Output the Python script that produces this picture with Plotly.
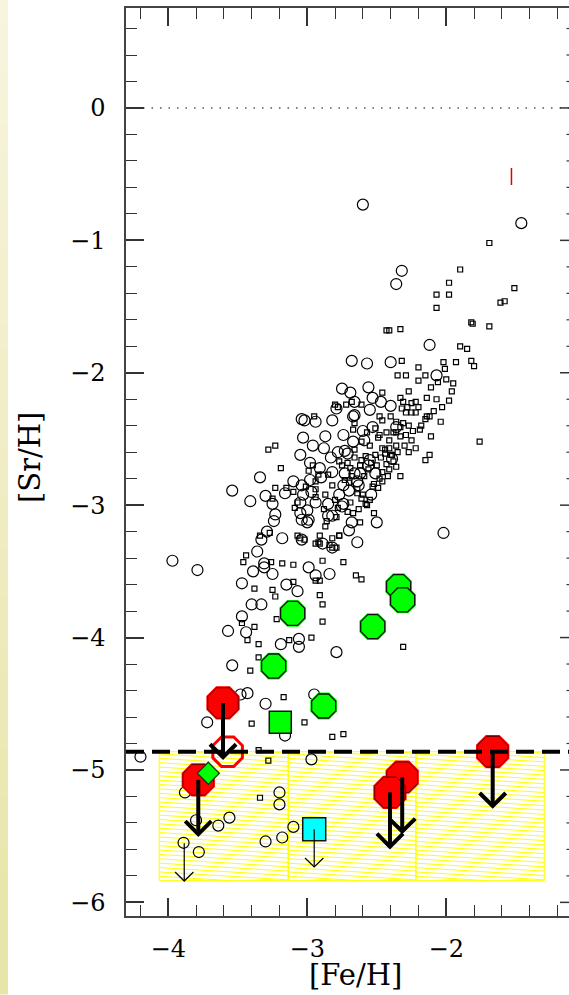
import numpy as np
import plotly.graph_objects as go

# ---------------- data ----------------
# small open circles (comparison sample 1)
circ_x = [-2.60, -1.46, -2.32, -2.36, -2.12, -2.40, -2.57, -2.68, -2.07, -2.56, -2.75, -2.69, -2.53, -2.47,
          -2.40, -2.66, -2.79, -2.55, -2.66, -3.04, -3.02, -2.94, -2.82, -2.67, -2.53, -2.36, -3.03, -2.87,
          -2.74, -2.59, -2.67, -2.88, -2.71, -3.05, -2.83, -2.55, -2.39, -2.56, -2.98, -2.91, -2.82, -2.73,
          -2.66, -2.51, -2.64, -2.74, -2.63, -3.34, -3.10, -3.04, -2.98, -3.54, -3.41, -3.30, -3.16, -3.03,
          -2.97, -3.25, -3.05, -2.94, -2.85, -2.74, -2.54, -3.23, -3.05, -3.00, -2.82, -2.68, -2.50, -3.24,
          -2.99, -3.00, -3.29, -3.18, -3.04, -2.89, -2.64, -2.02, -2.70, -3.33, -3.36, -2.82, -3.97, -3.79,
          -3.31, -3.31, -3.39, -3.25, -2.99, -2.94, -2.84, -3.47, -3.15, -3.07, -3.40, -3.33, -3.47, -3.44,
          -3.57, -3.19, -3.06, -3.06, -2.79, -3.54, -3.43, -3.48, -3.30, -2.95, -3.72, -3.16, -4.20, -2.97,
          -3.88, -3.20, -3.20, -3.80, -3.64, -3.56, -3.10, -3.18, -3.30, -3.78, -3.89,
          -3.04, -2.73, -2.62, -2.70, -2.77, -2.75, -2.85, -2.60, -2.78, -2.90, -2.96]
circ_y = [-0.73, -0.87, -1.23, -1.33, -1.79, -1.92, -1.93, -1.91, -2.02, -2.11, -2.12, -2.15, -2.19, -2.22,
          -2.25, -2.22, -2.27, -2.28, -2.32, -2.35, -2.36, -2.37, -2.36, -2.33, -2.41, -2.41, -2.49, -2.48,
          -2.47, -2.51, -2.52, -2.57, -2.61, -2.62, -2.64, -2.66, -2.65, -2.70, -2.68, -2.72, -2.75, -2.76,
          -2.76, -2.76, -2.82, -2.85, -2.85, -2.79, -2.82, -2.85, -2.81, -2.89, -2.97, -2.93, -2.91, -2.92,
          -2.90, -2.99, -2.98, -2.98, -2.99, -2.99, -2.92, -3.07, -3.06, -3.04, -3.08, -3.13, -3.13, -3.12,
          -3.11, -3.13, -3.20, -3.25, -3.26, -3.29, -3.28, -3.21, -3.19, -3.26, -3.35, -3.32, -3.42, -3.49,
          -3.44, -3.47, -3.50, -3.52, -3.47, -3.53, -3.52, -3.59, -3.60, -3.65, -3.75, -3.75, -3.84, -3.96,
          -3.95, -4.05, -4.01, -4.07, -4.11, -4.21, -4.42, -4.43, -4.50, -4.43, -4.64, -4.74, -4.90, -4.92,
          -5.17, -5.17, -5.26, -5.38, -5.42, -5.36, -5.43, -5.51, -5.54, -5.62, -5.55,
          -3.11, -2.59, -2.76, -2.89, -2.92, -3.01, -3.08, -2.44, -2.60, -2.79, -2.55]

# small open squares (comparison sample 2)
sq_x = [-1.69, -1.90, -1.98, -2.07, -1.98, -2.07, -1.51, -1.58, -1.61, -1.82, -1.81, -1.69, -2.41, -2.43,
        -2.33, -1.90, -1.85, -2.32, -2.02, -1.93, -1.82, -1.80, -2.35, -2.29, -2.20, -2.15, -2.01, -2.20,
        -2.11, -2.06, -2.00, -1.95, -1.96, -2.27, -2.14, -2.07, -2.33, -2.22, -2.20, -2.28, -2.25, -2.14,
        -2.04, -2.15, -2.40, -2.48, -2.36, -2.29, -2.43, -1.76, -2.46, -2.31, -2.25, -2.32, -2.29, -2.22,
        -2.12, -2.46, -2.36, -2.33, -2.31, -2.38, -2.48, -2.49, -2.33, -2.41, -2.46, -2.41, -2.27, -2.12,
        -2.80, -2.78, -2.72, -2.68, -2.61, -2.95, -2.66, -2.67, -3.28, -3.23, -3.19, -3.23, -3.15, -3.10,
        -3.25, -3.09, -3.07, -2.96, -2.94, -2.87, -2.94, -2.94, -2.33, -2.46, -2.49, -2.64, -2.67, -2.52,
        -2.62, -2.82, -2.77, -2.84, -2.82, -2.79, -2.89, -2.74, -2.41, -2.36, -2.38, -2.46, -2.44, -2.87,
        -2.77, -2.91, -3.07, -3.05, -3.34, -3.27, -2.94, -3.44, -3.46, -3.26, -3.18, -3.10, -3.02, -2.92,
        -2.91, -2.65, -2.61, -3.38, -3.25, -3.23, -3.10, -2.94, -2.91, -2.91, -2.89, -3.47, -3.38, -3.22,
        -2.89, -2.31, -3.43, -3.35, -3.13, -2.97, -3.35, -3.41, -3.17, -3.40, -3.02, -2.82, -2.74, -3.35,
        -3.28, -3.34,
        -2.30, -2.25, -2.55, -2.51, -2.61, -2.56, -2.69, -2.77, -2.73, -2.82, -2.61, -2.57, -2.78, -2.71,
        -2.66, -2.61, -2.51, -2.57, -2.19, -2.11, -2.22, -2.35, -2.15,
        -2.58, -2.54, -2.50, -2.47, -2.44, -2.62, -2.59, -2.52, -2.68, -2.64, -2.71, -2.60, -2.55, -2.48,
        -2.43, -2.39, -2.36, -2.42, -2.53, -2.66, -2.70, -2.75, -2.58, -2.63, -2.85, -2.80, -2.88, -2.92,
        -2.99, -3.01, -2.86, -2.79, -2.69, -2.24, -2.18, -2.09, -2.03, -1.98, -2.27, -2.40]
sq_y = [-1.02, -1.22, -1.32, -1.41, -1.41, -1.51, -1.36, -1.46, -1.47, -1.62, -1.63, -1.65, -1.68, -1.68,
        -1.67, -1.80, -1.82, -1.91, -1.92, -1.92, -1.91, -1.95, -2.02, -2.02, -1.96, -2.02, -1.97, -2.06,
        -2.11, -2.07, -2.05, -2.08, -2.14, -2.14, -2.19, -2.20, -2.19, -2.22, -2.26, -2.26, -2.30, -2.33,
        -2.37, -2.35, -2.33, -2.33, -2.45, -2.47, -2.45, -2.52, -2.15, -2.22, -2.23, -2.27, -2.30, -2.30,
        -2.33, -2.36, -2.37, -2.41, -2.38, -2.45, -2.47, -2.49, -2.48, -2.51, -2.57, -2.57, -2.60, -2.62,
        -2.24, -2.26, -2.24, -2.22, -2.24, -2.33, -2.38, -2.43, -2.58, -2.55, -2.72, -2.87, -2.87, -2.90,
        -2.95, -3.02, -2.98, -2.70, -2.82, -2.92, -2.88, -2.94, -2.78, -2.82, -2.87, -2.91, -3.06, -3.06,
        -3.13, -3.25, -3.23, -3.30, -3.32, -3.32, -3.42, -3.43, -2.73, -2.71, -2.67, -2.75, -2.58, -3.16,
        -3.23, -3.29, -3.23, -3.25, -3.23, -3.21, -3.29, -3.38, -3.43, -3.43, -3.44, -3.45, -3.26, -3.28,
        -3.23, -3.53, -3.56, -3.63, -3.64, -3.69, -3.58, -3.57, -3.57, -3.68, -3.75, -3.89, -3.92, -3.86,
        -3.88, -4.07, -4.02, -4.05, -4.02, -4.00, -4.15, -4.25, -4.45, -4.65, -4.64, -4.75, -4.73, -4.85,
        -4.93, -5.21,
        -2.55, -2.51, -2.55, -2.62, -2.66, -2.73, -2.72, -2.67, -2.81, -2.85, -2.95, -3.00, -3.02, -3.05,
        -2.58, -2.52, -2.42, -2.45, -2.43, -2.48, -2.57, -2.60, -2.66,
        -2.63, -2.68, -2.70, -2.64, -2.61, -2.70, -2.78, -2.84, -2.78, -2.88, -2.68, -2.92, -2.96, -2.80,
        -2.69, -2.62, -2.55, -2.78, -2.86, -2.64, -2.83, -2.70, -2.99, -3.03, -2.77, -2.96, -3.03, -2.77,
        -2.74, -2.86, -3.12, -3.09, -2.98, -2.44, -2.40, -2.29, -2.26, -2.21, -2.40, -2.62]

# red filled octagons (upper limits, thick arrows)
red_x = [-3.606, -3.784, -2.317, -2.405, -1.666]
red_y = [-4.494, -5.075, -5.055, -5.169, -4.862]
# red open octagon
redopen_x = [-3.573]
redopen_y = [-4.862]
# green octagons
grn_x = [-3.105, -3.242, -2.882, -2.529, -2.343, -2.314]
grn_y = [-3.817, -4.215, -4.517, -3.917, -3.615, -3.716]
# green square, green diamond, cyan square (upper limit)
gsq_x, gsq_y = [-3.194], [-4.640]
gdia_x, gdia_y = [-3.712], [-5.025]
cyan_x, cyan_y = [-2.950], [-5.448]
# small circle with thin upper-limit arrow
thin_lim_x, thin_lim_y = [-3.885], [-5.554]

# reference lines
solar_level = 0.0
limit_level = -4.862
# hatched (yellow) region: panel edges in [Fe/H], bottom in [Sr/H]
hatch_edges = [-4.065, -3.137, -2.218, -1.295]
hatch_bottom = -5.836
# small red tick mark
red_tick_x = [-1.531, -1.531]
red_tick_y = [-0.453, -0.582]

# right-hand frame tick positions
right_major = [-6, -5, -4, -3, -2, -1, 0]
right_minor = [round(-6 + 0.2 * k, 1) for k in range(35) if k % 5 != 0]

x_range = [-4.304, -1.117]
y_range = [-6.103, 0.755]

FONT = "DejaVu Serif"

fig = go.Figure()

W, H = 569, 995
ml, mr, mt, mb = 126, 0, 8, 79
pw, ph = W - ml - mr, H - mt - mb

# ---- left decorative gradient strip (kept strictly inside the figure) ----
n = 40
for i in range(n):
    f = i / (n - 1)
    c0 = np.array([247, 245, 222]); c1 = np.array([232, 229, 168])
    c = (c0 + (c1 - c0) * f).astype(int)
    py0 = H * i / n
    py1 = min(H * (i + 1) / n + 0.5, H - 0.5)
    fig.add_shape(type="rect", xref="paper", yref="paper",
                  x0=(0 - ml) / pw, x1=(8 - ml) / pw,
                  y0=(H - mb - py1) / ph, y1=(H - mb - py0) / ph,
                  line_width=0, fillcolor=f"rgb({c[0]},{c[1]},{c[2]})", layer="below")

# ---- right frame ticks (frame itself lies just beyond the picture) ----
for v in right_major:
    fig.add_shape(type="line", xref="paper", yref="y", x0=1 - 9 / pw, x1=1, y0=v, y1=v,
                  line=dict(color="#333", width=1.5), layer="above")
for v in right_minor:
    fig.add_shape(type="line", xref="paper", yref="y", x0=1 - 2.5 / pw, x1=1, y0=v, y1=v,
                  line=dict(color="#333", width=1.2), layer="above")

# ---- hatched region (drawn as shapes beneath the markers) ----
y_top, y_bot = limit_level, hatch_bottom
ystep = 0.033
drop = 0.06
hatch_line = dict(color="#ffff00", width=1)
for a, b in zip(hatch_edges[:-1], hatch_edges[1:]):
    for c in np.arange(y_bot, y_top + drop + ystep, ystep):
        yl, yr = c, c - drop
        xa, ya, xb, yb = a, yl, b, yr
        if yl > y_top:
            xa = a + (yl - y_top) / drop * (b - a); ya = y_top
        if yr < y_bot:
            xb = a + (yl - y_bot) / drop * (b - a); yb = y_bot
        if xa < xb and ya >= yb:
            fig.add_shape(type="line", xref="x", yref="y", x0=float(xa), x1=float(xb),
                          y0=float(ya), y1=float(yb), line=hatch_line, layer="below")
    fig.add_shape(type="rect", xref="x", yref="y", x0=a, x1=b, y0=y_bot, y1=y_top,
                  line=hatch_line, fillcolor="rgba(0,0,0,0)", layer="below")

# ---- dotted solar line ----
fig.add_trace(go.Scatter(x=x_range, y=[solar_level, solar_level], mode="lines",
                         line=dict(color="black", width=1, dash="1.5px,7px")))

# ---- comparison samples ----
fig.add_trace(go.Scatter(x=sq_x, y=sq_y, mode="markers",
                         marker=dict(symbol="square-open", size=5, color="black", line=dict(width=1.2))))
fig.add_trace(go.Scatter(x=circ_x, y=circ_y, mode="markers",
                         marker=dict(symbol="circle-open", size=11, color="black", line=dict(width=1.2))))

# red tick
fig.add_trace(go.Scatter(x=red_tick_x, y=red_tick_y, mode="lines", line=dict(color="#e00000", width=1.5)))

# ---- green markers ----
fig.add_trace(go.Scatter(x=grn_x, y=grn_y, mode="markers",
                         marker=dict(symbol="octagon", size=29, color="#00ff00", line=dict(width=0))))
fig.add_trace(go.Scatter(x=grn_x, y=grn_y, mode="markers",
                         marker=dict(symbol="octagon", size=26, color="#00ff00", line=dict(color="#111", width=1.3))))
fig.add_trace(go.Scatter(x=gsq_x, y=gsq_y, mode="markers",
                         marker=dict(symbol="square", size=22, color="#00ff00", line=dict(color="#111", width=1.5))))
fig.add_trace(go.Scatter(x=cyan_x, y=cyan_y, mode="markers",
                         marker=dict(symbol="square", size=23, color="#00ffff", line=dict(color="#111", width=1.5))))

# ---- red markers ----
fig.add_trace(go.Scatter(x=red_x, y=red_y, mode="markers",
                         marker=dict(symbol="octagon", size=36, color="#ff0000", line=dict(width=0))))
fig.add_trace(go.Scatter(x=red_x, y=red_y, mode="markers",
                         marker=dict(symbol="octagon", size=33, color="#ff0000", line=dict(color="#6a0000", width=1))))
fig.add_trace(go.Scatter(x=redopen_x, y=redopen_y, mode="markers",
                         marker=dict(symbol="octagon-open", size=32, color="#ff0000", line=dict(width=3))))
fig.add_trace(go.Scatter(x=gdia_x, y=gdia_y, mode="markers",
                         marker=dict(symbol="diamond", size=17, color="#00ff00", line=dict(color="#0a3a0a", width=1.3))))

# ---- dashed limit line ----
fig.add_trace(go.Scatter(x=x_range, y=[limit_level, limit_level], mode="lines",
                         line=dict(color="black", width=4, dash="18px,8px")))

# ---- arrows ----
def arrows(xs, ys, length, hdx, hdy):
    ax, ay = [], []
    for x, y in zip(xs, ys):
        t = y - length
        ax += [x, x, None, x - hdx, x, x + hdx, None]
        ay += [y, t, None, t + hdy, t, t + hdy, None]
    return ax, ay

ax, ay = arrows(red_x, red_y, 0.41, 0.094, 0.098)
fig.add_trace(go.Scatter(x=ax, y=ay, mode="lines", line=dict(color="black", width=4)))
ax, ay = arrows(cyan_x + thin_lim_x, cyan_y + thin_lim_y, 0.285, 0.066, 0.068)
fig.add_trace(go.Scatter(x=ax, y=ay, mode="lines", line=dict(color="black", width=1.2)))

tick_common = dict(ticks="inside", ticklen=18, tickwidth=1.5, tickcolor="#333",
                   showgrid=False, zeroline=False, dtick=1, tick0=0,
                   tickfont=dict(family=FONT, size=24, color="black"),
                   minor=dict(dtick=0.2, ticklen=11, tickwidth=1.2, tickcolor="#333", ticks="inside",
                              showgrid=False))

fig.update_layout(
    width=W, height=H, autosize=False, template="none",
    margin=dict(l=ml, r=mr, t=mt, b=mb, pad=0, autoexpand=False),
    paper_bgcolor="white", plot_bgcolor="white", showlegend=False, hovermode=False,
    xaxis=dict(range=x_range, ticklabelstandoff=10, showline=True, linecolor="#444", linewidth=1.5,
               mirror="ticks", automargin=False, **tick_common),
    yaxis=dict(range=y_range, ticklabelstandoff=14, showline=True, linecolor="#444", linewidth=1.5,
               mirror=False, automargin=False, **tick_common),
    annotations=[
        dict(text="[Fe/H]", xref="paper", yref="paper", x=(355 - ml) / pw, y=-(975 - (H - mb)) / ph,
             xanchor="center", yanchor="middle", showarrow=False,
             font=dict(family=FONT, size=29, color="black")),
        dict(text="[Sr/H]", xref="paper", yref="paper", x=(30 - ml) / pw, y=(H - mb - 458) / ph,
             xanchor="center", yanchor="middle", showarrow=False, textangle=-90,
             font=dict(family=FONT, size=29, color="black")),
    ],
)

fig.write_html("out.html", config={"displayModeBar": False})
